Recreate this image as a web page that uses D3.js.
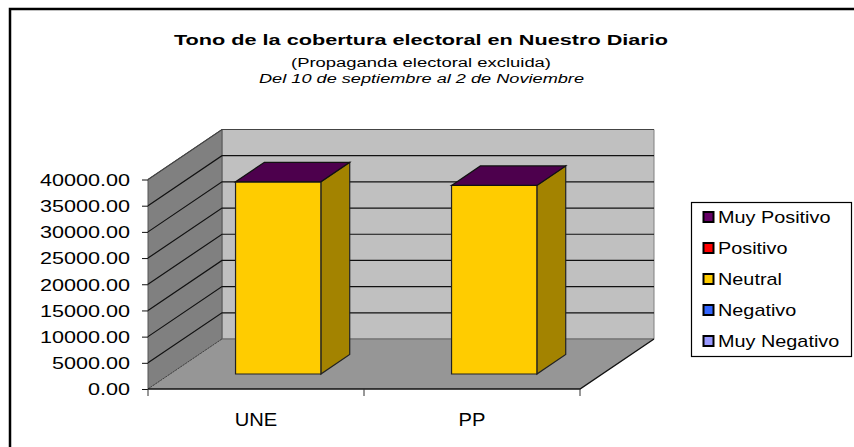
<!DOCTYPE html>
<html>
<head>
<meta charset="utf-8">
<script src="https://cdn.jsdelivr.net/npm/d3@7"></script>
<style>
    html, body { margin: 0; padding: 0; background: #fff; }
    svg { display: block; }
    text { font-family: "Liberation Sans", Arial, sans-serif; fill: #000; }
</style>
</head>
<body>
<div id="chart"></div>
<script>
const categories = ["UNE", "PP"];
const seriesNames = ["Muy Positivo", "Positivo", "Neutral", "Negativo", "Muy Negativo"];
const seriesColors = ["#660066", "#ff0000", "#ffcc00", "#3366ff", "#9999ff"];
const muyPositivo = [0, 0];
const positivo = [0, 0];
const neutral = [36700, 36000];
const negativo = [0, 0];
const muyNegativo = [0, 0];
const yTicks = [0, 5000, 10000, 15000, 20000, 25000, 30000, 35000, 40000];
const titleLines = [
    "Tono de la cobertura electoral en Nuestro Diario",
    "(Propaganda electoral excluida)",
    "Del 10 de septiembre al 2 de Noviembre"
];

const seriesValues = [muyPositivo, positivo, neutral, negativo, muyNegativo];

// rows for d3.stack, one per category
const rows = categories.map((c, i) => {
    const row = { category: c };
    seriesNames.forEach((s, j) => { row[s] = seriesValues[j][i]; });
    return row;
});

// Excel stacks from the last legend entry up
const stacked = d3.stack().keys(seriesNames.slice().reverse())(rows);

const svg = d3.select("#chart").append("svg")
    .attr("width", 854)
    .attr("height", 447);

// outer frame, only top and left survive in the picture
svg.append("path")
    .attr("d", "M10,447V9H854")
    .attr("fill", "none")
    .attr("stroke", "#000")
    .attr("stroke-width", 2.5);

const x = d3.scaleBand()
    .domain(categories)
    .range([148, 580])
    .paddingInner(0.605)
    .paddingOuter(0.3025);

const y = d3.scaleLinear()
    .domain([0, 40000])
    .range([389, 179.5]);

// oblique projection for the depth of the box
const depth = { dx: 74, dy: -50 };
const project = (px, py, z) => [px + depth.dx * z, py + depth.dy * z];
const poly = pts => "M" + pts.map(p => p.join(",")).join("L") + "Z";

const x0 = x.range()[0], x1 = x.range()[1];
const yBase = y(0), yTop = y(40000);

// back wall
svg.append("path")
    .attr("d", poly([project(x0, yTop, 1), project(x1, yTop, 1), project(x1, yBase, 1), project(x0, yBase, 1)]))
    .attr("fill", "#c0c0c0")
    .attr("stroke", "#808080");

// left wall
svg.append("path")
    .attr("d", poly([[x0, yTop], project(x0, yTop, 1), project(x0, yBase, 1), [x0, yBase]]))
    .attr("fill", "#808080")
    .attr("stroke", "#555");

// floor
svg.append("path")
    .attr("d", poly([[x0, yBase], project(x0, yBase, 1), project(x1, yBase, 1), [x1, yBase]]))
    .attr("fill", "#969696")
    .attr("stroke", "none");

// gridlines on both walls
const grid = d3.line();
svg.append("g").selectAll("path")
    .data(yTicks.slice(1))
    .join("path")
    .attr("d", d => grid([[x0, y(d)], project(x0, y(d), 1), project(x1, y(d), 1)]))
    .attr("fill", "none")
    .attr("stroke", d => d === 40000 ? "#444" : "#111")
    .attr("stroke-width", 1.2);

// floor edges
svg.append("path")
    .attr("d", grid([[x0, yBase], project(x0, yBase, 1)]))
    .attr("fill", "none")
    .attr("stroke", "#444")
    .attr("stroke-dasharray", "2,1");
svg.append("path")
    .attr("d", grid([project(x0, yBase, 1), project(x1, yBase, 1)]))
    .attr("fill", "none")
    .attr("stroke", "#666");
svg.append("path")
    .attr("d", grid([[x0, yBase], [x1, yBase], project(x1, yBase, 1)]))
    .attr("fill", "none")
    .attr("stroke", "#111")
    .attr("stroke-width", 1.4);

// bars, stacked from the bottom up
const zFront = 0.3, zBack = 0.69;
const colorOf = name => seriesColors[seriesNames.indexOf(name)];
const bars = svg.append("g");

stacked.forEach((layer, li) => {
    const color = colorOf(layer.key);
    layer.forEach(seg => {
        const left = x(seg.data.category), right = left + x.bandwidth();
        const lo = y(seg[0]), hi = y(seg[1]);
        if (seg[1] > seg[0]) {
            bars.append("path")
                .attr("d", poly([project(right, hi, zFront), project(right, hi, zBack), project(right, lo, zBack), project(right, lo, zFront)]))
                .attr("fill", d3.color(color).darker(1.25))
                .attr("stroke", "#222")
                .attr("stroke-width", 1.2);
            bars.append("path")
                .attr("d", poly([project(left, hi, zFront), project(right, hi, zFront), project(right, lo, zFront), project(left, lo, zFront)]))
                .attr("fill", color)
                .attr("stroke", "#222")
                .attr("stroke-width", 1.2);
        }
        // only the top of the stack shows its cap
        if (li === stacked.length - 1) {
            bars.append("path")
                .attr("d", poly([project(left, hi, zFront), project(left, hi, zBack), project(right, hi, zBack), project(right, hi, zFront)]))
                .attr("fill", d3.color(color).darker(0.8))
                .attr("stroke", "#111")
                .attr("stroke-width", 1.2);
        }
    });
});

// axes
const yAxis = svg.append("g")
    .attr("transform", "translate(" + x0 + ",0)")
    .call(d3.axisLeft(y).tickValues(yTicks).tickSize(6).tickFormat(d3.format(".2f")));
yAxis.select(".domain").remove();
yAxis.selectAll("line").attr("stroke", "#111");
yAxis.selectAll("text")
    .attr("x", 0)
    .attr("dy", "0.34em")
    .attr("transform", "translate(-18,0) scale(1.27,1)")
    .style("font-family", "'Liberation Sans', Arial, sans-serif")
    .style("font-size", "17px");

const xTickVals = [x0, (x0 + x1) / 2, x1];
svg.append("g").selectAll("line")
    .data(xTickVals)
    .join("line")
    .attr("x1", d => d).attr("x2", d => d)
    .attr("y1", yBase).attr("y2", yBase + 7)
    .attr("stroke", "#333");

svg.append("g").selectAll("text")
    .data(categories)
    .join("text")
    .attr("text-anchor", "middle")
    .attr("x", 0)
    .attr("transform", d => "translate(" + (x(d) + x.bandwidth() / 2) + ",425.5) scale(1.12,1)")
    .style("font-size", "18px")
    .text(d => d);

// title
const titleStyle = [
    { x: 174, y: 45, w: 494, size: 15, weight: "bold", style: "normal" },
    { x: 291, y: 67, w: 260, size: 12.5, weight: "normal", style: "normal" },
    { x: 259, y: 83, w: 325, size: 12.5, weight: "normal", style: "italic" }
];
svg.append("g").selectAll("text")
    .data(titleLines)
    .join("text")
    .attr("x", (d, i) => titleStyle[i].x)
    .attr("y", (d, i) => titleStyle[i].y)
    .attr("textLength", (d, i) => titleStyle[i].w)
    .attr("lengthAdjust", "spacingAndGlyphs")
    .style("font-size", (d, i) => titleStyle[i].size + "px")
    .style("font-weight", (d, i) => titleStyle[i].weight)
    .style("font-style", (d, i) => titleStyle[i].style)
    .text(d => d);

// legend
const legend = svg.append("g");
legend.append("rect")
    .attr("x", 691.5).attr("y", 202.5)
    .attr("width", 160).attr("height", 154)
    .attr("fill", "#fff")
    .attr("stroke", "#000")
    .attr("stroke-width", 1.2);

const legendY = d3.scalePoint()
    .domain(seriesNames)
    .range([217, 341]);

legend.selectAll("rect.key")
    .data(seriesNames)
    .join("rect")
    .attr("class", "key")
    .attr("x", 703.5)
    .attr("y", d => legendY(d) - 5)
    .attr("width", 10)
    .attr("height", 10)
    .attr("fill", d => colorOf(d))
    .attr("stroke", "#000")
    .attr("stroke-width", 2);

legend.selectAll("text")
    .data(seriesNames)
    .join("text")
    .attr("x", 0)
    .attr("transform", d => "translate(718," + (legendY(d) + 6) + ") scale(1.24,1)")
    .style("font-size", "16px")
    .text(d => d);
</script>
</body>
</html>
